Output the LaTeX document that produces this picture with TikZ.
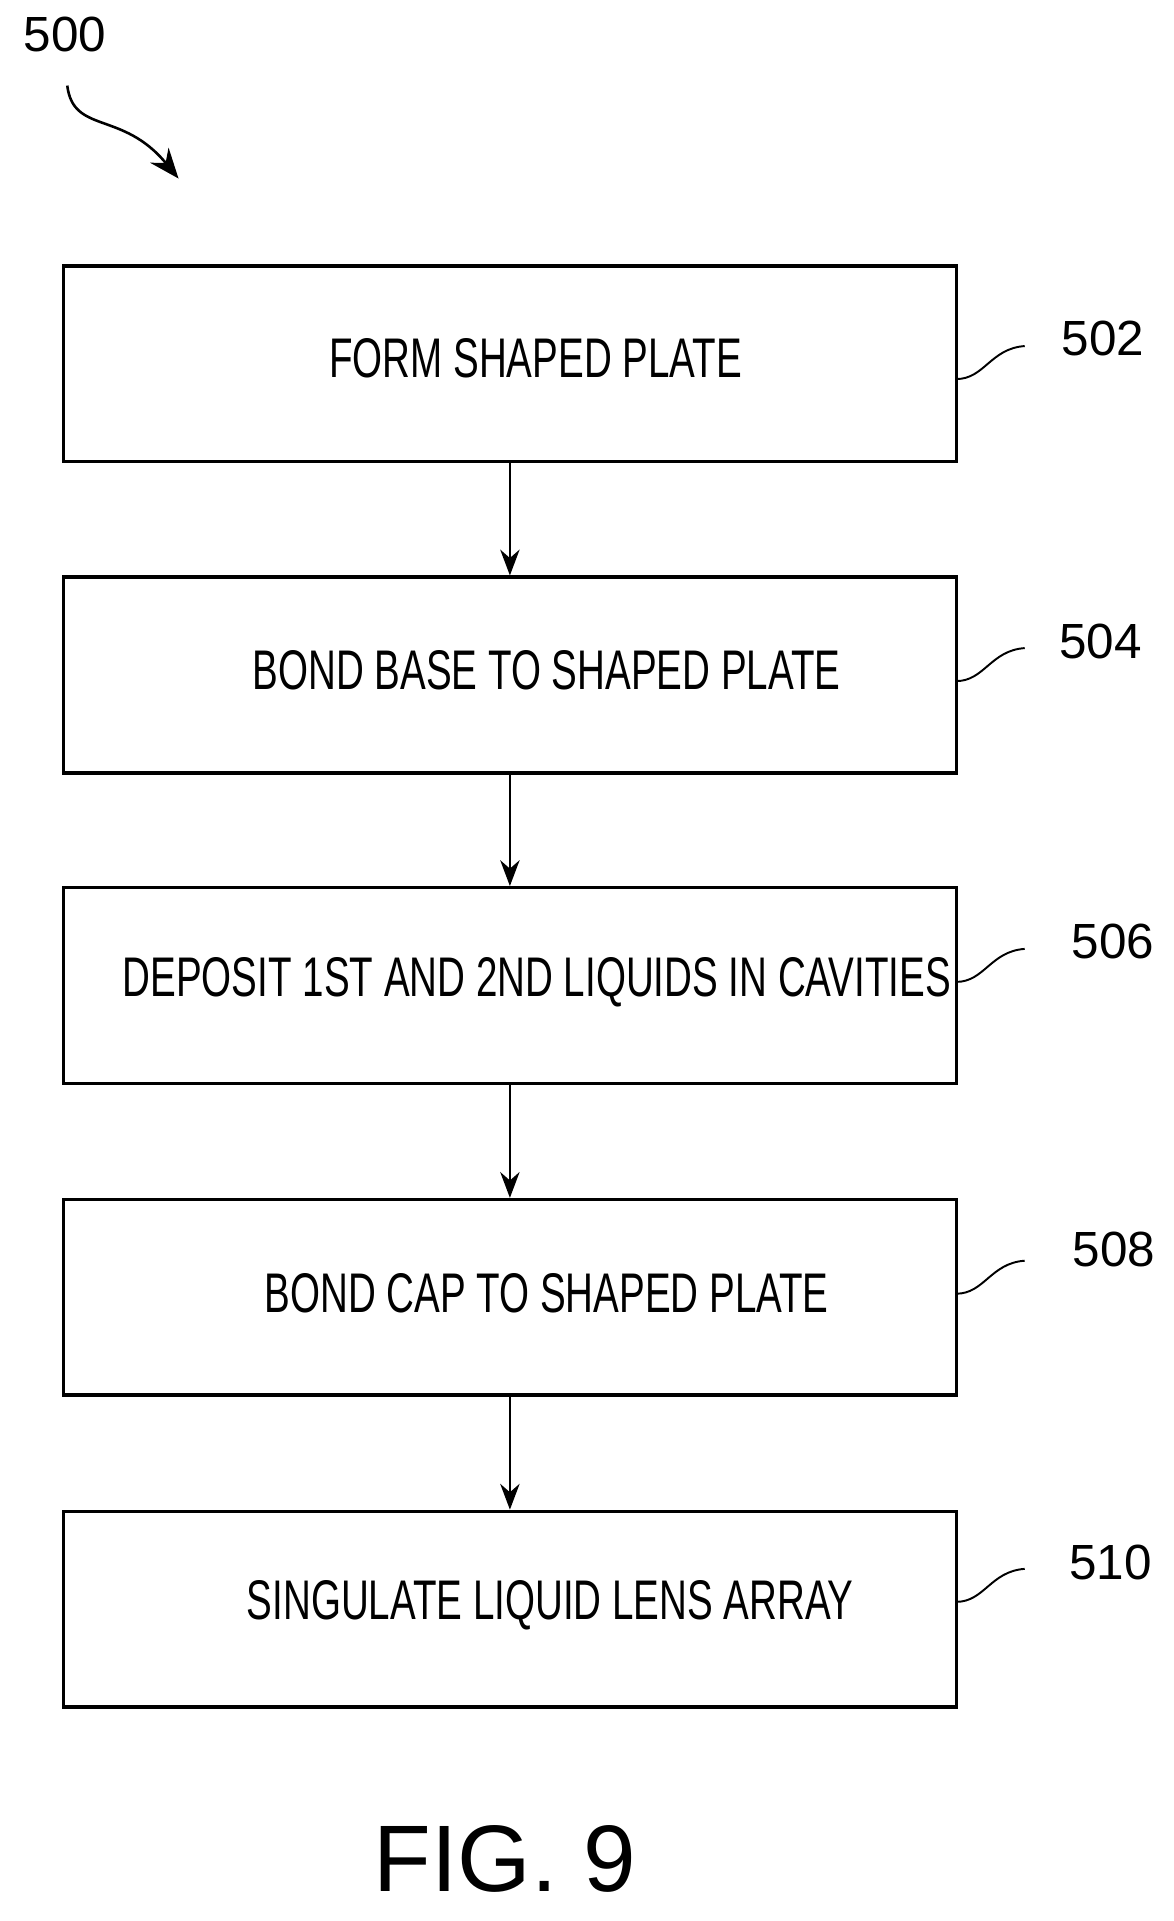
\documentclass[tikz,border=0pt]{standalone}
\usepackage{fontspec}
\setmainfont{Liberation Sans}
\usepackage{graphicx}
\usetikzlibrary{arrows.meta,decorations.pathmorphing}
\begin{document}
\begin{tikzpicture}[x=0.02cm,y=-0.02cm,
  stepbox/.style={draw,line width=1.6pt,minimum width=730*0.02cm,minimum height=160*0.02cm,inner sep=0},
  flow/.style={draw,line width=1.2pt,-{Stealth[length=12pt,width=9pt]}},
  lead/.style={draw,line width=0.9pt},
  num/.style={font=\fontsize{23}{25}\selectfont,anchor=center}]
\useasboundingbox (0,0) rectangle (960,1571);
\newcommand{\boxtxt}[1]{\fontsize{26}{28}\selectfont\scalebox{0.69}[1]{#1}}
\node[stepbox] (s1) at (417,297.5) {};
\node[stepbox] (s2) at (417,552) {};
\node[stepbox] (s3) at (417,806) {};
\node[stepbox] (s4) at (417,1061) {};
\node[stepbox] (s5) at (417,1316) {};
\node (t1) at (438,293) {\boxtxt{FORM SHAPED PLATE}};
\node (t2) at (447,548) {\boxtxt{BOND BASE TO SHAPED PLATE}};
\node (t3) at (439,803) {\boxtxt{DEPOSIT 1ST AND 2ND LIQUIDS IN CAVITIES}};
\node (t4) at (447,1058) {\boxtxt{BOND CAP TO SHAPED PLATE}};
\node (t5) at (450,1313) {\boxtxt{SINGULATE LIQUID LENS ARRAY}};
\foreach \a/\b in {s1/s2,s2/s3,s3/s4,s4/s5} \draw[flow] (\a.south) -- (\b.north);
\node[num] (n2) at (902,277) {502};
\node[num] (n4) at (900,525) {504};
\node[num] (n6) at (910,770) {506};
\node[num] (n8) at (911,1022) {508};
\node[num] (n10) at (908,1278) {510};
\foreach \s/\y in {s1/310,s2/557,s3/803,s4/1058,s5/1310}
  \draw[lead] (782,\y) .. controls (805,\y) and (810,\y-25) .. (838,\y-27);
\node[num] (n0) at (53,28) {500};
\coordinate (a0) at (55,70);
\coordinate (a1) at (146,146);
\draw[line width=1.2pt,-{Stealth[length=14pt,width=11pt]}] (a0) .. controls (60,110) and (100,90) .. (a1);
\node[font=\fontsize{44}{46}\selectfont] (fig) at (413,1520) {FIG. 9};
\end{tikzpicture}
\end{document}
